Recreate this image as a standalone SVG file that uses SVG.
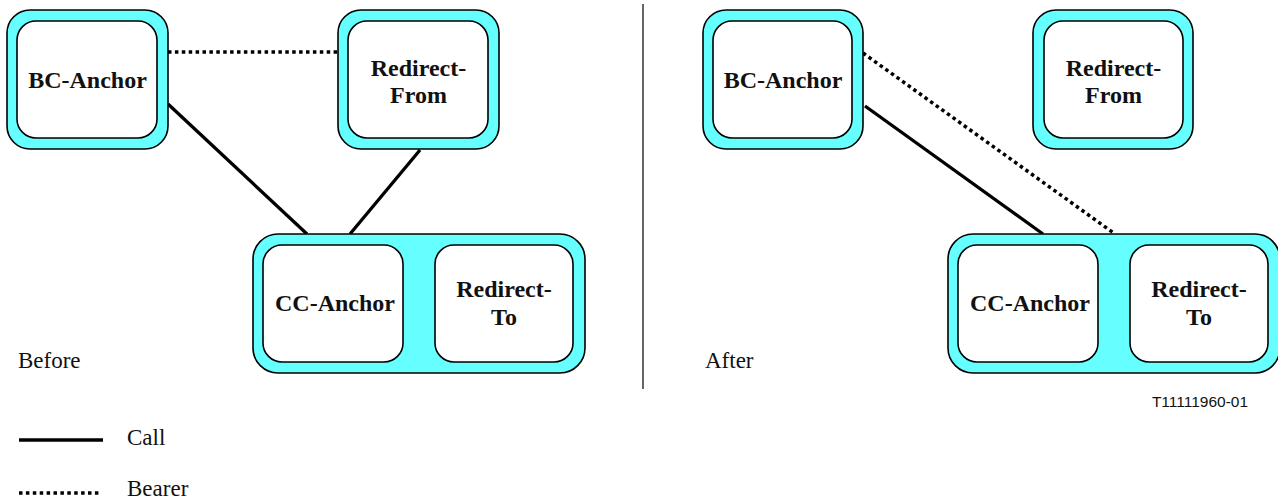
<svg xmlns="http://www.w3.org/2000/svg" width="1278" height="502" viewBox="0 0 1278 502">
<style>
.outer{fill:#66ffff;stroke:#000;stroke-width:1.6}
.inner{fill:#fff;stroke:#000;stroke-width:1.6}
.lbl{font-family:"Liberation Serif","Times New Roman",serif;font-weight:bold;font-size:24px;fill:#111;text-anchor:middle}
.txt{font-family:"Liberation Serif","Times New Roman",serif;font-size:23px;fill:#111}
.call{stroke:#000;stroke-width:3.3;fill:none}
.bearer{stroke:#000;stroke-width:3.5;stroke-dasharray:3.5 3.4;fill:none}
</style>
<rect width="1278" height="502" fill="#fff"/>
<line x1="643" y1="4" x2="643" y2="389" stroke="#333" stroke-width="1.5"/>
<g id="connectors">
<line class="bearer" x1="168" y1="52" x2="338" y2="52"/>
<line class="call" x1="168" y1="104" x2="307" y2="234"/>
<line class="call" x1="420" y1="150" x2="350" y2="234"/>
<line class="bearer" x1="863" y1="53" x2="1115" y2="234"/>
<line class="call" x1="865" y1="106" x2="1043" y2="234"/>
</g>
<g id="bc-anchor-before">
<rect class="outer" x="7" y="10" width="161" height="139" rx="23"/>
<rect class="inner" x="17" y="21" width="140" height="117" rx="19"/>
<text class="lbl" x="87.5" y="88">BC-Anchor</text>
</g>
<g id="redirect-from-before">
<rect class="outer" x="338" y="10" width="161" height="139" rx="23"/>
<rect class="inner" x="348" y="21" width="140" height="117" rx="19"/>
<text class="lbl" x="418.5" y="76">Redirect-</text>
<text class="lbl" x="418.5" y="103">From</text>
</g>
<g id="cc-group-before">
<rect class="outer" x="253" y="234" width="332" height="139" rx="25"/>
<g id="cc-anchor-before">
<rect class="inner" x="263" y="245" width="140" height="117" rx="19"/>
<text class="lbl" x="335" y="311">CC-Anchor</text>
</g>
<g id="redirect-to-before">
<rect class="inner" x="435" y="245" width="138" height="117" rx="19"/>
<text class="lbl" x="504" y="297">Redirect-</text>
<text class="lbl" x="504" y="325">To</text>
</g>
</g>
<g id="bc-anchor-after">
<rect class="outer" x="703" y="10" width="160" height="139" rx="23"/>
<rect class="inner" x="713" y="21" width="139" height="117" rx="19"/>
<text class="lbl" x="783" y="88">BC-Anchor</text>
</g>
<g id="redirect-from-after">
<rect class="outer" x="1033" y="10" width="160" height="139" rx="23"/>
<rect class="inner" x="1044" y="21" width="139" height="117" rx="19"/>
<text class="lbl" x="1113.5" y="76">Redirect-</text>
<text class="lbl" x="1113.5" y="103">From</text>
</g>
<g id="cc-group-after">
<rect class="outer" x="948" y="234" width="332" height="139" rx="25"/>
<g id="cc-anchor-after">
<rect class="inner" x="958" y="245" width="140" height="117" rx="19"/>
<text class="lbl" x="1030" y="311">CC-Anchor</text>
</g>
<g id="redirect-to-after">
<rect class="inner" x="1130" y="245" width="138" height="117" rx="19"/>
<text class="lbl" x="1199" y="297">Redirect-</text>
<text class="lbl" x="1199" y="325">To</text>
</g>
</g>
<text class="txt" x="18" y="368">Before</text>
<text class="txt" x="705" y="368">After</text>
<text x="1200" y="407" text-anchor="middle" font-family="Liberation Sans, Arial, sans-serif" font-size="15.5" fill="#111">T11111960-01</text>
<g id="legend">
<line class="call" x1="19" y1="440" x2="103" y2="440"/>
<text class="txt" x="127" y="445">Call</text>
<line class="bearer" x1="19" y1="493" x2="101" y2="493" stroke-dasharray="3.4 3.9"/>
<text class="txt" x="127" y="496">Bearer</text>
</g>
</svg>
